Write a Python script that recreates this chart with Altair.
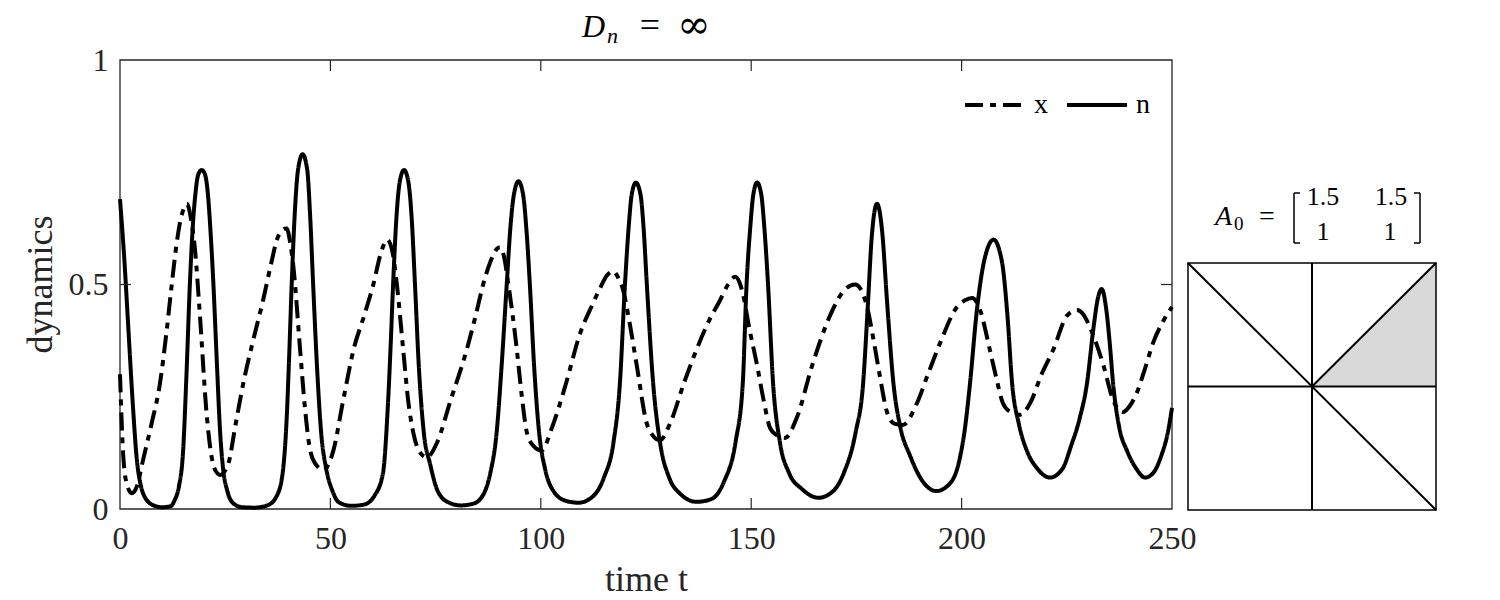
import altair as alt
import pandas as pd

# ---- data ----
n_t = [0, 1, 2, 3, 4, 5, 6, 8, 10, 12, 13, 14, 15, 15.8, 16.6, 17.3, 17.9, 18.6, 19.4, 20.2, 20.9, 21.5, 22.2, 23.0,
       23.8, 24.5, 25.5, 27, 29, 32, 35, 37, 38.5, 39.6, 40.2, 40.8, 41.6, 42.3, 43.4, 44.5, 45.2, 45.9, 46.8, 47.8,
       49.0, 50.5, 52, 55, 58, 60.5, 62.5, 63.6, 64.3, 64.9, 65.7, 66.5, 67.5, 68.5, 69.3, 70.1, 71, 72.2, 73.7, 75.5,
       78, 81, 84, 86.5, 88, 89.5, 90.7, 91.9, 92.8, 93.6, 94.7, 95.8, 96.6, 97.4, 98.4, 99.6, 101, 103, 106, 109,
       112, 115, 117.3, 118.8, 120, 120.9, 121.6, 122.6, 123.7, 124.4, 125.2, 126.7, 128.3, 130.5, 133, 137, 140.5,
       143.5, 146.3, 148, 148.9, 149.8, 150.5, 151.4, 152.4, 153.1, 154, 155.2, 156.8, 159, 162, 166, 169.5, 172,
       174.8, 176.6, 177.7, 178.6, 179.9, 181.1, 182.3, 183.8, 185.5, 187.7, 190.5, 194, 197.5, 199.5, 200.8, 202,
       203.6, 205.3, 207.6, 209.6, 210.9, 212, 213.6, 215.5, 218, 221, 224, 226, 228, 229.8, 231.3, 232.4, 233.3,
       234.3, 235.2, 236, 237.5, 239.3, 241.5, 243.6, 245.5, 247.5, 249, 250]
n_v = [0.69, 0.56, 0.40, 0.24, 0.11, 0.05, 0.025, 0.008, 0.004, 0.006, 0.02, 0.05, 0.13, 0.30, 0.50, 0.63, 0.70,
       0.745, 0.755, 0.745, 0.70, 0.62, 0.50, 0.33, 0.17, 0.09, 0.04, 0.012, 0.004, 0.003, 0.008, 0.025, 0.07, 0.20,
       0.34, 0.50, 0.67, 0.755, 0.79, 0.755, 0.65, 0.50, 0.32, 0.17, 0.09, 0.04, 0.015, 0.007, 0.01, 0.03, 0.08, 0.22,
       0.36, 0.50, 0.65, 0.73, 0.755, 0.73, 0.65, 0.50, 0.32, 0.17, 0.10, 0.04, 0.015, 0.008, 0.012, 0.035, 0.08,
       0.17, 0.32, 0.50, 0.63, 0.70, 0.73, 0.70, 0.62, 0.50, 0.32, 0.17, 0.09, 0.04, 0.018, 0.014, 0.025, 0.07, 0.15,
       0.28, 0.50, 0.63, 0.70, 0.727, 0.70, 0.63, 0.50, 0.28, 0.15, 0.07, 0.035, 0.016, 0.022, 0.06, 0.15, 0.28, 0.50,
       0.63, 0.70, 0.727, 0.70, 0.63, 0.50, 0.28, 0.15, 0.08, 0.045, 0.025, 0.04, 0.08, 0.17, 0.28, 0.45, 0.60, 0.68,
       0.62, 0.46, 0.28, 0.18, 0.12, 0.065, 0.04, 0.06, 0.11, 0.18, 0.28, 0.44, 0.55, 0.60, 0.55, 0.43, 0.28, 0.19,
       0.13, 0.09, 0.07, 0.09, 0.14, 0.20, 0.28, 0.40, 0.47, 0.49, 0.45, 0.37, 0.28, 0.18, 0.13, 0.09, 0.07, 0.08,
       0.12, 0.17, 0.225]

x_t = [0, 0.7, 1.5, 2.8, 4, 5.5, 7.5, 9.5, 11, 12.3, 13.3, 14.3, 15.2, 15.9, 16.8, 17.8, 19, 20.6, 21.7, 22.6, 23.8,
       25.7, 27.5, 29.3, 31.5, 34, 36, 37.3, 38.5, 39.6, 40.5, 41.2, 42.8, 44, 45.2, 46.5, 48.3, 50.7, 53, 55.5, 58,
       60.2, 62, 63.5, 64.8, 65.8, 67.3, 68.5, 69.7, 71, 72.9, 75.3, 78.5, 82.4, 84.5, 86.3, 88, 89.2, 90.3, 91.3,
       92.3, 94.3, 95.5, 96.7, 98.3, 100.2, 102.6, 106, 109.3, 112, 114, 115.7, 117.2, 118.4, 119.5, 121, 122.8,
       125.2, 126.5, 128.3, 130.7, 134, 137, 140, 142.6, 144.5, 146.2, 147.2, 148, 149.6, 151.4, 153, 154.5, 156,
       158, 160.9, 164.5, 168.7, 171.5, 174.7, 176, 177.4, 179.2, 180.5, 182.3, 184, 186, 189.4, 192, 194.9, 198.9,
       200.8, 202.5, 204.4, 206.7, 208.3, 209.8, 211.8, 213.9, 216.3, 219, 221.8, 225, 227.4, 228.8, 230.5, 233.7,
       236, 238.4, 240, 241.6, 243.5, 245.5, 248, 250]
x_v = [0.30, 0.13, 0.06, 0.035, 0.05, 0.11, 0.19, 0.28, 0.39, 0.50, 0.58, 0.64, 0.67, 0.68, 0.65, 0.58, 0.43, 0.21,
       0.12, 0.087, 0.076, 0.10, 0.19, 0.28, 0.37, 0.465, 0.55, 0.60, 0.62, 0.625, 0.59, 0.54, 0.355, 0.22, 0.13, 0.10,
       0.087, 0.13, 0.24, 0.355, 0.43, 0.50, 0.57, 0.60, 0.57, 0.50, 0.355, 0.24, 0.17, 0.13, 0.115, 0.147, 0.24,
       0.355, 0.43, 0.50, 0.55, 0.575, 0.583, 0.56, 0.50, 0.355, 0.25, 0.17, 0.14, 0.13, 0.18, 0.28, 0.39, 0.45, 0.49,
       0.52, 0.53, 0.515, 0.49, 0.42, 0.32, 0.19, 0.165, 0.153, 0.19, 0.28, 0.355, 0.42, 0.465, 0.50, 0.517, 0.505,
       0.48, 0.40, 0.32, 0.24, 0.18, 0.165, 0.158, 0.205, 0.32, 0.43, 0.48, 0.50, 0.49, 0.455, 0.37, 0.30, 0.215,
       0.19, 0.187, 0.236, 0.30, 0.37, 0.45, 0.465, 0.47, 0.443, 0.355, 0.29, 0.236, 0.215, 0.21, 0.236, 0.30, 0.355,
       0.43, 0.443, 0.435, 0.405, 0.32, 0.243, 0.216, 0.23, 0.258, 0.31, 0.37, 0.42, 0.45]

series_names = ["x", "n"]
x_ticks = [0, 50, 100, 150, 200, 250]
y_ticks = [0, 0.5, 1]

# sign-pattern panel (coordinates in the panel's own [-1, 1] square)
seg_x1 = [0, -1, -1, 0]
seg_y1 = [-1, 0, 1, 0]
seg_x2 = [0, 1, 1, 1]
seg_y2 = [1, 0, -1, 1]
shade_x = [0, 1]
shade_top = [0, 1]
shade_bottom = [0, 0]
matrix_entries = ["1.5", "1.5", "1", "1"]

FONT = "Liberation Serif"
INK = "#262626"

lines_df = pd.concat([
    pd.DataFrame({"t": x_t, "v": x_v, "s": "x"}),
    pd.DataFrame({"t": n_t, "v": n_v, "s": "n"}),
])

xs = alt.Scale(domain=[0, 250], nice=False, zero=False)
ys = alt.Scale(domain=[0, 1], nice=False, zero=False)
AX_STYLE = dict(ticks=False, tickSize=0, domain=False, grid=False, labelFlush=False,
                labelFont=FONT, labelFontSize=32, labelColor=INK,
                titleFont=FONT, titleFontSize=36, titleColor=INK, titleFontWeight="normal")
ax_x = alt.Axis(values=x_ticks, format="~r", labelPadding=14, titlePadding=8, title="time t", **AX_STYLE)
ax_y = alt.Axis(values=y_ticks, format="~r", labelPadding=12, title="dynamics",
                titleAngle=-90, titleX=-69, titleY=224, titleBaseline="alphabetic", titleAlign="center",
                **AX_STYLE)

lines = alt.Chart(lines_df).mark_line(strokeWidth=4, interpolate="monotone", color="black").encode(
    x=alt.X("t:Q", scale=xs, axis=ax_x),
    y=alt.Y("v:Q", scale=ys, axis=ax_y),
    strokeDash=alt.StrokeDash("s:N", scale=alt.Scale(domain=series_names, range=[[18, 7, 6, 7], [1, 0]]),
                              legend=alt.Legend(title=None, orient="none", legendX=843, legendY=13,
                                                direction="horizontal", symbolType="stroke", symbolSize=3600,
                                                symbolStrokeWidth=4, symbolStrokeColor="black",
                                                labelFont=FONT, labelFontSize=28, labelColor="black",
                                                labelOffset=7, columnPadding=11, padding=0)),
    order=alt.Order("t:Q"),
)

box = alt.Chart(pd.DataFrame({"t": [0], "t2": [250], "v": [0], "v2": [1]})).mark_rect(
    filled=False, stroke=INK, strokeWidth=1.3).encode(
    x=alt.X("t:Q", scale=xs, axis=ax_x), x2="t2:Q", y=alt.Y("v:Q", scale=ys, axis=ax_y), y2="v2:Q")

xt_df = pd.DataFrame({"t": [v for v in x_ticks[1:-1] for _ in (0, 1)],
                      "v": [e for _ in x_ticks[1:-1] for e in (0, 1)]})
xtick = alt.Chart(xt_df).mark_tick(orient="vertical", clip=True, size=22, thickness=1.2, color=INK, opacity=1).encode(
    x=alt.X("t:Q", scale=xs, axis=ax_x), y=alt.Y("v:Q", scale=ys, axis=ax_y))
yt_df = pd.DataFrame({"t": [0, 250], "v": [0.5, 0.5]})
ytick = alt.Chart(yt_df).mark_tick(orient="horizontal", clip=True, size=22, thickness=1.2, color=INK, opacity=1).encode(
    x=alt.X("t:Q", scale=xs, axis=ax_x), y=alt.Y("v:Q", scale=ys, axis=ax_y))


def label(txt, x, y, size, style="normal", align="left", font=FONT):
    return alt.Chart(pd.DataFrame({"s": [txt]})).mark_text(
        font=font, fontSize=size, fontStyle=style, align=align, baseline="alphabetic", color="black"
    ).encode(text="s:N", x=alt.value(x), y=alt.value(y))


title_parts = [
    label("D", 462, -23, 32, "italic"),
    label("n", 487, -17, 22, "italic"),
    label("=", 530, -23, 36, align="center"),
    label("\u221e", 574, -22, 40, align="center", font="DejaVu Serif"),
]

main = alt.layer(box, lines, xtick, ytick, *title_parts)

# ---- panel ----
ps_x = alt.Scale(domain=[-1, 1], range=[1068, 1316], nice=False, zero=False)
ps_y = alt.Scale(domain=[-1, 1], range=[450, 203], nice=False, zero=False)

shade = alt.Chart(pd.DataFrame({"px": shade_x, "py": shade_top, "pb": shade_bottom})).mark_area(
    color="#d9d9d9", opacity=1).encode(
    x=alt.X("px:Q", scale=ps_x, axis=None), y=alt.Y("py:Q", scale=ps_y, axis=None), y2="pb:Q")

frame = alt.Chart(pd.DataFrame({"a": [-1], "b": [1]})).mark_rect(
    filled=False, stroke="black", strokeWidth=1.5).encode(
    x=alt.X("a:Q", scale=ps_x, axis=None), x2="b:Q",
    y=alt.Y("a:Q", scale=ps_y, axis=None), y2="b:Q")

segs = alt.Chart(pd.DataFrame({"x1": seg_x1, "y1": seg_y1, "x2": seg_x2, "y2": seg_y2})).mark_rule(
    color="black", strokeWidth=2).encode(
    x=alt.X("x1:Q", scale=ps_x, axis=None), x2="x2:Q",
    y=alt.Y("y1:Q", scale=ps_y, axis=None), y2="y2:Q")

br_df = pd.DataFrame({
    "bx1": [1174, 1174, 1174, 1300, 1294, 1294],
    "bx2": [1174, 1180, 1180, 1300, 1300, 1300],
    "by1": [133, 133, 183, 133, 133, 183],
    "by2": [183, 133, 183, 183, 133, 183],
})
brackets = alt.Chart(br_df).mark_rule(color="black", strokeWidth=1.5).encode(
    x=alt.X("bx1:Q", scale=None, axis=None), x2="bx2:Q",
    y=alt.Y("by1:Q", scale=None, axis=None), y2="by2:Q")

matrix_parts = [
    label("A", 1095, 165, 28, "italic"),
    label("0", 1114, 170, 19),
    label("=", 1147, 165, 28, align="center"),
    label(matrix_entries[0], 1203, 145, 26, align="center"),
    label(matrix_entries[1], 1271, 145, 26, align="center"),
    label(matrix_entries[2], 1203, 180, 26, align="center"),
    label(matrix_entries[3], 1270, 180, 26, align="center"),
]

panel = alt.layer(shade, frame, segs, brackets, *matrix_parts)

chart = alt.layer(main, panel).resolve_scale(x="independent", y="independent").properties(
    width=1052, height=449,
    background="white",
    autosize=alt.AutoSizeParams(type="none"),
    padding={"left": 120, "top": 60, "right": 328, "bottom": 91},
).configure_view(strokeWidth=0)

chart.save("out.html", embed_options={"renderer": "svg", "actions": False})
